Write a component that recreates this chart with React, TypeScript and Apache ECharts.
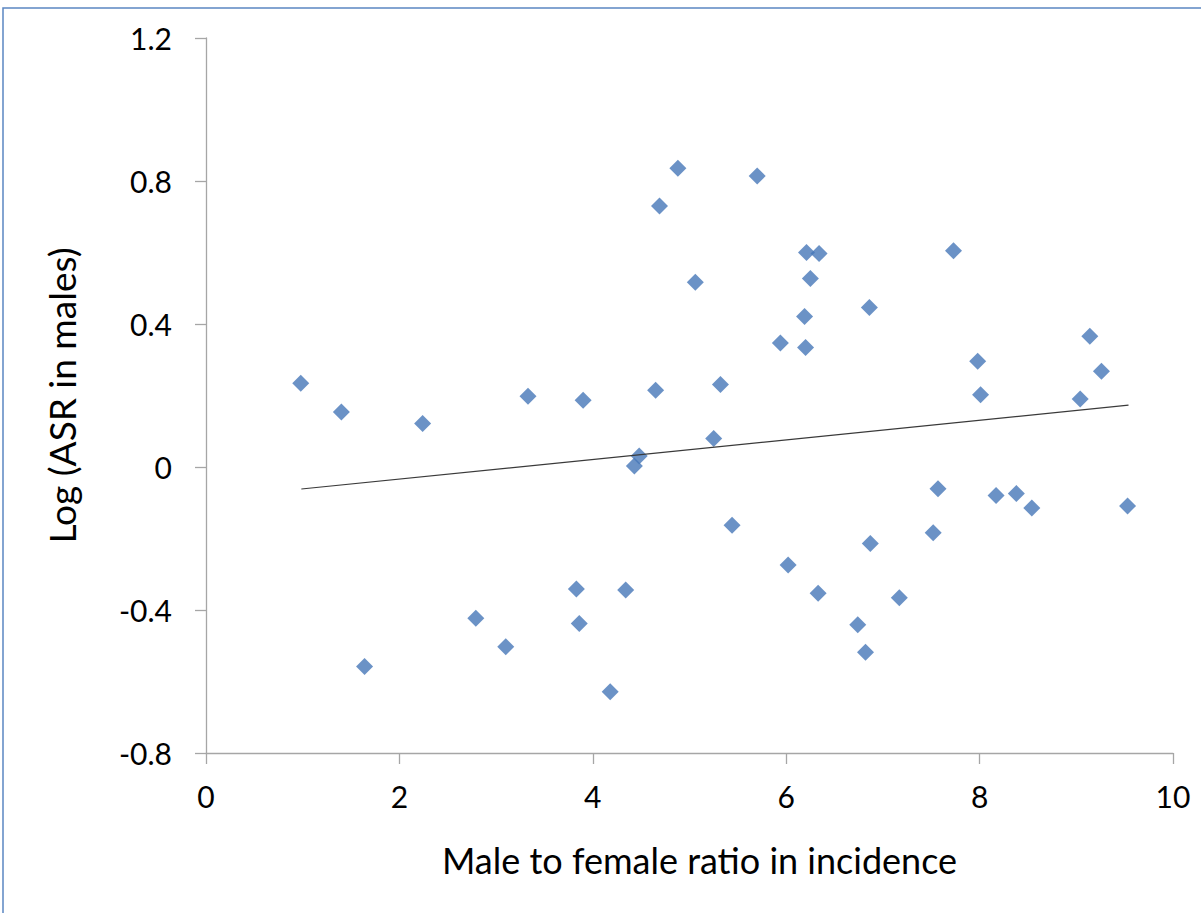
import React, { useEffect, useRef } from "react";
import * as echarts from "echarts";

const ratioX: number[] = [
  0.98, 1.4, 1.64, 2.24, 2.79, 3.1, 3.33, 3.83, 3.86, 3.9, 4.18, 4.34, 4.43, 4.48, 4.65, 4.69,
  4.88, 5.06, 5.25, 5.32, 5.44, 5.7, 5.94, 6.02, 6.19, 6.2, 6.21, 6.25, 6.33, 6.34, 6.74, 6.82,
  6.86, 6.87, 7.17, 7.52, 7.57, 7.73, 7.98, 8.01, 8.17, 8.38, 8.54, 9.04, 9.14, 9.26, 9.53,
];
const logAsr: number[] = [
  0.234, 0.154, -0.558, 0.122, -0.423, -0.503, 0.198, -0.341, -0.438, 0.187, -0.629, -0.344,
  0.003, 0.031, 0.215, 0.73, 0.836, 0.517, 0.08, 0.231, -0.163, 0.814, 0.347, -0.274, 0.421,
  0.334, 0.6, 0.527, -0.353, 0.597, -0.441, -0.518, 0.446, -0.214, -0.366, -0.184, -0.061,
  0.605, 0.296, 0.202, -0.08, -0.074, -0.115, 0.19, 0.366, 0.268, -0.109,
];
const trendX: number[] = [0.986, 9.54];
const trendY: number[] = [-0.0615, 0.173];

const xTicks = { min: 0, max: 10, interval: 2 };
const yTicks = { min: -0.8, max: 1.2, interval: 0.4 };

const FONT = "Lato";

export default function App() {
  const ref = useRef<HTMLDivElement>(null);
  useEffect(() => {
    if (!ref.current) return;
    const chart = echarts.init(ref.current, null, { renderer: "svg" });
    const axisColor = "#a6a6a6";
    chart.setOption({
      animation: false,
      backgroundColor: "#ffffff",
      grid: { left: 206, top: 38, width: 967, height: 715, containLabel: false },
      xAxis: {
        type: "value",
        min: xTicks.min,
        max: xTicks.max,
        interval: xTicks.interval,
        name: "Male to female ratio in incidence",
        nameLocation: "middle",
        nameGap: 89,
        nameTextStyle: { color: "#000", fontFamily: FONT, fontSize: 36, padding: [0, 0, 0, 20] },
        axisLine: { show: true, onZero: false, lineStyle: { color: axisColor, width: 1.3 } },
        axisTick: { show: true, inside: false, length: 11, lineStyle: { color: axisColor, width: 1.3 } },
        splitLine: { show: false },
        axisLabel: { color: "#000", fontFamily: FONT, fontSize: 30, margin: 28 },
      },
      yAxis: {
        type: "value",
        min: yTicks.min,
        max: yTicks.max,
        interval: yTicks.interval,
        name: "Log (ASR in males)",
        nameLocation: "middle",
        nameGap: 126,
        nameRotate: 90,
        nameTextStyle: { color: "#000", fontFamily: FONT, fontSize: 37 },
        axisLine: { show: true, onZero: false, lineStyle: { color: axisColor, width: 1.3 } },
        axisTick: { show: true, inside: false, length: 11, lineStyle: { color: axisColor, width: 1.3 } },
        splitLine: { show: false },
        axisLabel: {
          color: "#000",
          fontFamily: FONT,
          fontSize: 30,
          margin: 34,
          formatter: (v: number) => String(Math.round(v * 10) / 10),
        },
      },
      series: [
        {
          type: "scatter",
          symbol: "diamond",
          symbolSize: 17,
          itemStyle: { color: "#4677B8" },
          data: ratioX.map((x, i) => [x, logAsr[i]]),
          z: 2,
        },
        {
          type: "line",
          showSymbol: false,
          symbol: "none",
          lineStyle: { color: "#3a3a3a", width: 1.2 },
          data: trendX.map((x, i) => [x, trendY[i]]),
          z: 3,
        },
      ],
      graphic: [
        {
          type: "rect",
          shape: { x: 3, y: 8, width: 1230, height: 940 },
          style: { fill: "none", stroke: "#5b86c2", lineWidth: 1.5 },
          silent: true,
        },
      ],
    });
    return () => chart.dispose();
  }, []);
  return (
    <div
      ref={ref}
      style={{ position: "fixed", left: 0, top: 0, width: 1201, height: 913, background: "#fff" }}
    />
  );
}
